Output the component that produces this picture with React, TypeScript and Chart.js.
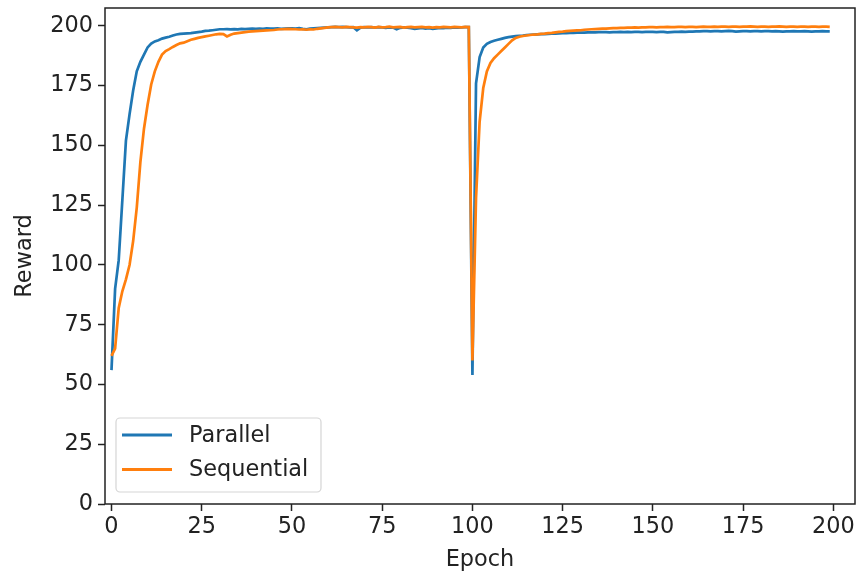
import React, { useEffect, useRef } from "react";
import { Chart, registerables } from "chart.js";

Chart.register(...registerables);

const epochs: number[] = Array.from({ length: 200 }, (_, i) => i);

const parallel: number[] = [
  56, 90, 102, 127, 152, 163, 173, 181, 185, 188,
  191, 192.6, 193.5, 194, 194.7, 195.1, 195.5, 196, 196.4, 196.7,
  196.8, 196.9, 197, 197.2, 197.4, 197.6, 197.9, 198, 198.2, 198.4,
  198.6, 198.6, 198.7, 198.6, 198.7, 198.6, 198.8, 198.7, 198.8, 198.9,
  198.8, 198.9, 198.8, 199, 198.9, 198.9, 199, 198.8, 198.9, 199,
  199, 198.9, 199.1, 198.8, 198.6, 198.9, 199, 199.1, 199.2, 199.3,
  199.4, 199.5, 199.6, 199.5, 199.6, 199.5, 199.4, 199.5, 198.2, 199.3,
  199.5, 199.4, 199.5, 199.3, 199.5, 199.4, 199.2, 199.4, 199.3, 198.6,
  199.2, 199.4, 199.3, 199.1, 198.8, 199, 199.2, 198.9, 199.1, 198.8,
  199, 199.2, 199.1, 199.3, 199.2, 199.4, 199.3, 199.4, 199.5, 199.5,
  54, 176, 187, 191, 192.5, 193.3, 193.8, 194.2, 194.6, 195,
  195.3, 195.5, 195.7, 195.9, 196, 196.2, 196.3, 196.4, 196.5, 196.6,
  196.6, 196.7, 196.8, 196.8, 196.9, 197, 197, 197.1, 197.1, 197.2,
  197.2, 197.2, 197.3, 197.3, 197.3, 197.4, 197.4, 197.4, 197.3, 197.4,
  197.4, 197.5, 197.4, 197.5, 197.4, 197.5, 197.5, 197.4, 197.5, 197.5,
  197.5, 197.4, 197.5, 197.5, 197.3, 197.4, 197.5, 197.5, 197.6, 197.5,
  197.6, 197.6, 197.7, 197.7, 197.8, 197.8, 197.7, 197.8, 197.8, 197.7,
  197.8, 197.9, 197.8, 197.6, 197.7, 197.8, 197.8, 197.7, 197.8, 197.8,
  197.7, 197.8, 197.8, 197.7, 197.8, 197.7, 197.6, 197.7, 197.7, 197.8,
  197.7, 197.7, 197.8, 197.7, 197.6, 197.7, 197.7, 197.8, 197.7, 197.7,
];

const sequential: number[] = [
  62, 65, 82, 89, 94, 100, 110, 124, 143, 157,
  167, 175.5, 181, 185, 188, 189.5, 190.3, 191.2, 192, 192.7,
  193, 193.6, 194.2, 194.6, 195, 195.3, 195.6, 195.9, 196.2, 196.5,
  196.7, 196.6, 195.6, 196.3, 196.8, 197, 197.2, 197.4, 197.6, 197.7,
  197.8, 197.9, 198, 198.1, 198.2, 198.3, 198.5, 198.6, 198.7, 198.8,
  198.7, 198.6, 198.5, 198.6, 198.4, 198.6, 198.5, 198.8, 199, 199.2,
  199.4, 199.5, 199.6, 199.5, 199.4, 199.6, 199.5, 199.4, 199.3, 199.5,
  199.4, 199.6, 199.5, 199.3, 199.6, 199.4, 199.5, 199.7, 199.4, 199.5,
  199.6, 199.3, 199.5, 199.6, 199.4, 199.5, 199.6, 199.4, 199.5, 199.3,
  199.5, 199.4, 199.6, 199.5, 199.4, 199.6, 199.5, 199.4, 199.6, 199.5,
  60, 128, 160, 174, 181, 184.5, 186.5, 188, 189.5, 191,
  192.5, 194, 195, 195.5, 195.8, 196, 196.2, 196.4, 196.5, 196.7,
  196.8, 197, 197.1, 197.3, 197.5, 197.6, 197.8, 197.9, 198, 198.1,
  198.2, 198.4, 198.5, 198.6, 198.7, 198.8, 198.9, 198.9, 199, 199.1,
  199.1, 199.2, 199.2, 199.3, 199.3, 199.4, 199.3, 199.4, 199.4, 199.5,
  199.5, 199.4, 199.5, 199.5, 199.6, 199.5, 199.5, 199.6, 199.6, 199.5,
  199.6, 199.6, 199.5, 199.6, 199.7, 199.6, 199.6, 199.7, 199.6, 199.7,
  199.7, 199.6, 199.7, 199.7, 199.6, 199.7, 199.7, 199.8, 199.7, 199.6,
  199.7, 199.7, 199.6, 199.7, 199.7, 199.8, 199.7, 199.6, 199.7, 199.7,
  199.6, 199.7, 199.7, 199.6, 199.7, 199.7, 199.6, 199.7, 199.7, 199.6,
];

const xTicks: number[] = [0, 25, 50, 75, 100, 125, 150, 175, 200];
const yTicks: number[] = [0, 25, 50, 75, 100, 125, 150, 175, 200];
const seriesNames: string[] = ["Parallel", "Sequential"];
const seriesColors: string[] = ["#1f77b4", "#ff7f0e"];
const xTitle = "Epoch";
const yTitle = "Reward";

const FONT = "'DejaVu Sans', sans-serif";
const FS = 22.4;
const TXT = "#222222";

const framePlugin = {
  id: "frameAndLegend",
  afterDatasetsDraw(chart: any) {
    const { ctx, chartArea } = chart;
    ctx.save();
    ctx.strokeStyle = "#222222";
    ctx.lineWidth = 1.5;
    ctx.strokeRect(chartArea.left, chartArea.top, chartArea.right - chartArea.left, chartArea.bottom - chartArea.top);

    // legend box
    const bx = chartArea.left + 11;
    const by = chartArea.bottom - 86;
    const bw = 205;
    const bh = 74;
    const r = 4;
    ctx.beginPath();
    ctx.moveTo(bx + r, by);
    ctx.lineTo(bx + bw - r, by);
    ctx.arcTo(bx + bw, by, bx + bw, by + r, r);
    ctx.lineTo(bx + bw, by + bh - r);
    ctx.arcTo(bx + bw, by + bh, bx + bw - r, by + bh, r);
    ctx.lineTo(bx + r, by + bh);
    ctx.arcTo(bx, by + bh, bx, by + bh - r, r);
    ctx.lineTo(bx, by + r);
    ctx.arcTo(bx, by, bx + r, by, r);
    ctx.closePath();
    ctx.fillStyle = "rgba(255,255,255,0.8)";
    ctx.fill();
    ctx.strokeStyle = "#d5d5d5";
    ctx.lineWidth = 1.2;
    ctx.stroke();

    const rows = [by + 17, by + 51.5];
    seriesNames.forEach((name, i) => {
      ctx.beginPath();
      ctx.strokeStyle = seriesColors[i];
      ctx.lineWidth = 3;
      ctx.moveTo(bx + 6, rows[i]);
      ctx.lineTo(bx + 56, rows[i]);
      ctx.stroke();
      ctx.fillStyle = TXT;
      ctx.font = `${FS}px ${FONT}`;
      ctx.textBaseline = "middle";
      ctx.textAlign = "left";
      ctx.fillText(name, bx + 73, rows[i] + 1);
    });
    ctx.restore();
  },
};

export default function App() {
  const ref = useRef<HTMLCanvasElement | null>(null);
  useEffect(() => {
    if (!ref.current) return;
    const chart = new Chart(ref.current, {
      type: "line",
      data: {
        labels: epochs,
        datasets: [
          {
            label: seriesNames[0],
            data: parallel,
            borderColor: seriesColors[0],
            backgroundColor: seriesColors[0],
            borderWidth: 2.7,
            pointRadius: 0,
            tension: 0,
            order: 1,
          },
          {
            label: seriesNames[1],
            data: sequential,
            borderColor: seriesColors[1],
            backgroundColor: seriesColors[1],
            borderWidth: 2.7,
            pointRadius: 0,
            tension: 0,
            order: 0,
          },
        ],
      },
      options: {
        responsive: false,
        animation: false,
        devicePixelRatio: 1,
        layout: { padding: { top: 8, right: 2, left: 0, bottom: 0 } },
        plugins: { legend: { display: false }, tooltip: { enabled: false } },
        scales: {
          x: {
            type: "linear",
            min: -1.8,
            max: 206,
            afterBuildTicks: (s: any) => {
              s.ticks = xTicks.map((v) => ({ value: v }));
            },
            afterFit: (s: any) => {
              s.height = 71;
              s.paddingLeft = 0;
              s.paddingRight = 0;
            },
            grid: { drawOnChartArea: false, drawTicks: true, tickLength: 7, tickWidth: 1.5, tickColor: "#222222" },
            border: { display: false },
            ticks: {
              autoSkip: false,
              maxRotation: 0,
              padding: 3,
              color: TXT,
              font: { family: FONT, size: FS },
              callback: (v: any) => String(v),
            },
            title: {
              display: true,
              text: xTitle,
              color: TXT,
              font: { family: FONT, size: FS },
              padding: { top: 0, bottom: 1 },
            },
          },
          y: {
            type: "linear",
            min: 0,
            max: 207.5,
            afterBuildTicks: (s: any) => {
              s.ticks = yTicks.map((v) => ({ value: v }));
            },
            afterFit: (s: any) => {
              s.width = 105;
              s.paddingTop = 0;
              s.paddingBottom = 0;
            },
            grid: { drawOnChartArea: false, drawTicks: true, tickLength: 7, tickWidth: 1.5, tickColor: "#222222" },
            border: { display: false },
            ticks: {
              autoSkip: false,
              padding: 5,
              color: TXT,
              font: { family: FONT, size: FS },
              callback: (v: any) => String(v),
            },
            title: {
              display: true,
              text: yTitle,
              color: TXT,
              font: { family: FONT, size: FS },
              padding: { top: 12, bottom: 0 },
            },
          },
        },
      },
      plugins: [framePlugin],
    });
    return () => chart.destroy();
  }, []);
  return (
    <div style={{ position: "fixed", left: 0, top: 0, width: 857, height: 575, background: "#fff" }}>
      <canvas ref={ref} width={857} height={575} style={{ width: 857, height: 575, display: "block" }} />
    </div>
  );
}
